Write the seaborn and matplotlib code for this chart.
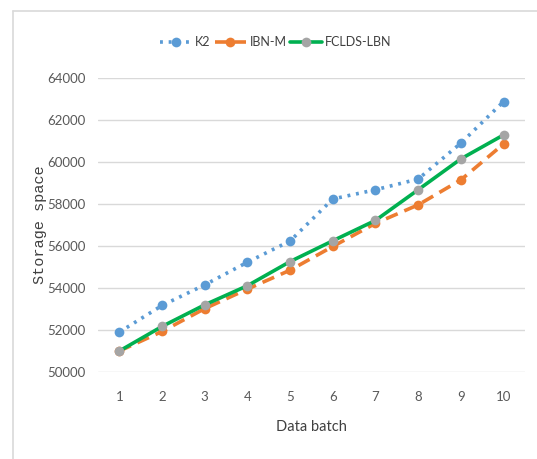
import matplotlib
matplotlib.use("Agg")
import matplotlib.pyplot as plt
import seaborn as sns
from matplotlib.lines import Line2D

# data
batches = [1, 2, 3, 4, 5, 6, 7, 8, 9, 10]
k2 = [51900, 53170, 54150, 55230, 56240, 58240, 58680, 59190, 60900, 62880]
ibn_m = [51000, 51930, 53020, 53950, 54850, 55980, 57080, 57960, 59150, 60860]
fclds_lbn = [51000, 52170, 53200, 54110, 55260, 56250, 57220, 58680, 60150, 61290]

sns.set_style("white")
plt.rcParams["font.family"] = ["Lato", "DejaVu Sans"]

fig = plt.figure(figsize=(5.37, 4.59), dpi=100)
ax = fig.add_axes([0.1825, 0.1895, 0.795, 0.6405])

sns.lineplot(x=batches, y=k2, ax=ax, color="#5B9BD5", linestyle=(0, (0.8, 1.6)),
             linewidth=2.6, marker="o", markersize=7, markeredgewidth=0,
             label="K2")
sns.lineplot(x=batches, y=ibn_m, ax=ax, color="#ED7D31", linestyle=(0, (3.5, 2)),
             linewidth=2.6, marker="o", markersize=7, markeredgewidth=0,
             label="IBN-M")
sns.lineplot(x=batches, y=fclds_lbn, ax=ax, color="#00B050", linestyle="-",
             linewidth=2.6, marker="o", markersize=7, markeredgewidth=0,
             markerfacecolor="#A5A5A5", label="FCLDS-LBN")

ax.set_xlim(0.5, 10.5)
ax.set_ylim(50000, 64000)
ax.set_xticks(batches)
ax.set_yticks(range(50000, 64001, 2000))
ax.yaxis.grid(True, color="#D9D9D9", linewidth=1)
ax.xaxis.grid(False)
for s in ax.spines.values():
    s.set_visible(False)
ax.tick_params(axis="both", length=0, labelsize=9.5, colors="#595959")
ax.tick_params(axis="x", pad=14)
ax.tick_params(axis="y", pad=9)

ax.set_xlabel("Data batch", fontsize=10.5, color="#404040", labelpad=12)
ax.set_ylabel("Storage space", fontsize=11, color="#404040",
              family="Liberation Mono", labelpad=0)

handles, labels = ax.get_legend_handles_labels()
ax.get_legend().remove()
fig.legend(handles, labels, loc="center", bbox_to_anchor=(0.514, 0.908),
           ncol=3, frameon=False, fontsize=9, handlelength=2.5,
           columnspacing=0.3, handletextpad=0.3, labelcolor="#404040")

# light frame around the chart area
fig.add_artist(Line2D([0.0242, 0.0242], [0.0, 0.976], color="#D9D9D9", linewidth=1.2))
fig.add_artist(Line2D([0.0242, 1.0], [0.976, 0.976], color="#D9D9D9", linewidth=1.2))

plt.savefig("out.png", dpi=100)
